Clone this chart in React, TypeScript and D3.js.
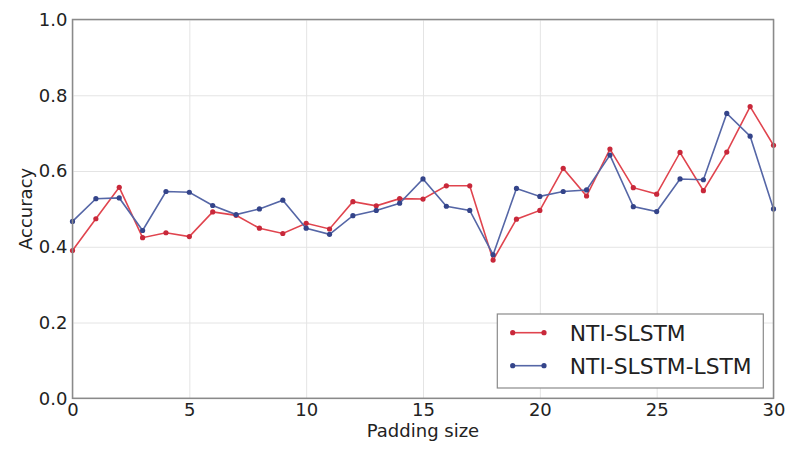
import React, { useRef, useEffect } from 'react';
import * as d3 from 'd3';

const paddingSizes = d3.range(0, 31);
const ntiSlstm = [
  0.39, 0.474, 0.557, 0.424, 0.437, 0.427, 0.492, 0.483, 0.449, 0.435,
  0.462, 0.447, 0.519, 0.508, 0.527, 0.526, 0.561, 0.561, 0.365, 0.473,
  0.496, 0.607, 0.534, 0.658, 0.556, 0.539, 0.649, 0.548, 0.65, 0.77, 0.668,
];
const ntiSlstmLstm = [
  0.467, 0.527, 0.529, 0.443, 0.546, 0.544, 0.509, 0.485, 0.5, 0.523,
  0.449, 0.433, 0.482, 0.496, 0.515, 0.579, 0.507, 0.496, 0.379, 0.554,
  0.533, 0.546, 0.55, 0.642, 0.506, 0.493, 0.579, 0.577, 0.752, 0.692, 0.5,
];
const xTicks = [0, 5, 10, 15, 20, 25, 30];
const yTicks = [0, 0.2, 0.4, 0.6, 0.8, 1.0];

const series = [
  { name: 'NTI-SLSTM', values: ntiSlstm, color: '#e0444e', marker: '#c8283a' },
  { name: 'NTI-SLSTM-LSTM', values: ntiSlstmLstm, color: '#5566a6', marker: '#34448a' },
];

const W = 800;
const H = 453;
const margin = { top: 19.5, right: 26.5, bottom: 54.7, left: 72.5 };

function AccuracyChart() {
  const svgRef = useRef<SVGSVGElement | null>(null);

  useEffect(() => {
    const width = W - margin.left - margin.right;
    const height = H - margin.top - margin.bottom;
    const font = 'DejaVu Sans, sans-serif';

    const xScale = d3.scaleLinear().domain([0, 30]).range([0, width]);
    const yScale = d3.scaleLinear().domain([0, 1]).range([height, 0]);

    const svgEl = d3.select(svgRef.current);
    svgEl.selectAll('*').remove();
    svgEl.append('rect').attr('width', W).attr('height', H).attr('fill', '#fff');
    const svg = svgEl.append('g').attr('transform', `translate(${margin.left},${margin.top})`);

    // grid
    const xGrid = svg
      .append('g')
      .attr('transform', `translate(0, ${height})`)
      .call(d3.axisBottom(xScale).tickValues(xTicks).tickSize(-height).tickFormat(() => ''));
    xGrid.select('.domain').remove();
    xGrid.selectAll('line').attr('stroke', '#e4e4e4').attr('stroke-width', 1);

    const yGrid = svg
      .append('g')
      .call(d3.axisLeft(yScale).tickValues(yTicks).tickSize(-width).tickFormat(() => ''));
    yGrid.select('.domain').remove();
    yGrid.selectAll('line').attr('stroke', '#e4e4e4').attr('stroke-width', 1);

    // tick labels
    const xAxisGroup = svg
      .append('g')
      .attr('transform', `translate(0, ${height})`)
      .call(d3.axisBottom(xScale).tickValues(xTicks).tickSize(0).tickPadding(5).tickFormat(d3.format('d')));
    xAxisGroup.select('.domain').remove();
    xAxisGroup.selectAll('text').attr('fill', '#222').attr('font-size', 18).attr('font-family', font);

    const yAxisGroup = svg
      .append('g')
      .call(d3.axisLeft(yScale).tickValues(yTicks).tickSize(0).tickPadding(5).tickFormat(d3.format('.1f')));
    yAxisGroup.select('.domain').remove();
    yAxisGroup.selectAll('text').attr('fill', '#222').attr('font-size', 18).attr('font-family', font);

    // lines
    const line = d3
      .line<number>()
      .x((_, i) => xScale(paddingSizes[i]))
      .y((d) => yScale(d));

    series.forEach((s) => {
      svg
        .append('path')
        .attr('fill', 'none')
        .attr('stroke', s.color)
        .attr('stroke-width', 1.6)
        .attr('d', line(s.values));
      svg
        .append('g')
        .selectAll('circle')
        .data(s.values)
        .enter()
        .append('circle')
        .attr('cx', (_, i) => xScale(paddingSizes[i]))
        .attr('cy', (d) => yScale(d))
        .attr('r', 2.6)
        .attr('fill', s.marker);
    });

    // frame
    svg
      .append('rect')
      .attr('width', width)
      .attr('height', height)
      .attr('fill', 'none')
      .attr('stroke', '#8a8a8a')
      .attr('stroke-width', 1.5);

    // legend
    const legend = svg.append('g').attr('transform', `translate(${497.3 - margin.left},${314 - margin.top})`);
    legend
      .append('rect')
      .attr('width', 266)
      .attr('height', 74)
      .attr('fill', '#fff')
      .attr('stroke', '#8a8a8a')
      .attr('stroke-width', 1.2);
    series.forEach((s, i) => {
      const y = 18.7 + i * 33;
      legend
        .append('line')
        .attr('x1', 15.4)
        .attr('x2', 46.7)
        .attr('y1', y)
        .attr('y2', y)
        .attr('stroke', s.color)
        .attr('stroke-width', 1.6);
      [15.4, 46.7].forEach((cx) => {
        legend.append('circle').attr('cx', cx).attr('cy', y).attr('r', 2.6).attr('fill', s.marker);
      });
      legend
        .append('text')
        .attr('x', 72.5)
        .attr('y', y)
        .attr('dy', '0.36em')
        .attr('font-size', 21.8)
        .attr('font-family', font)
        .attr('fill', '#222')
        .text(s.name);
    });

    // axis titles
    svg
      .append('text')
      .attr('x', width / 2)
      .attr('y', height + 39)
      .attr('text-anchor', 'middle')
      .attr('font-size', 18)
      .attr('font-family', font)
      .attr('fill', '#222')
      .text('Padding size');
    svg
      .append('text')
      .attr('transform', `translate(${-40.5},${height / 2}) rotate(-90)`)
      .attr('text-anchor', 'middle')
      .attr('font-size', 18)
      .attr('font-family', font)
      .attr('fill', '#222')
      .text('Accuracy');
  }, []);

  return <svg ref={svgRef} width={W} height={H} style={{ display: 'block' }} />;
}

export default function App() {
  return (
    <div style={{ margin: -8 }}>
      <AccuracyChart />
    </div>
  );
}
